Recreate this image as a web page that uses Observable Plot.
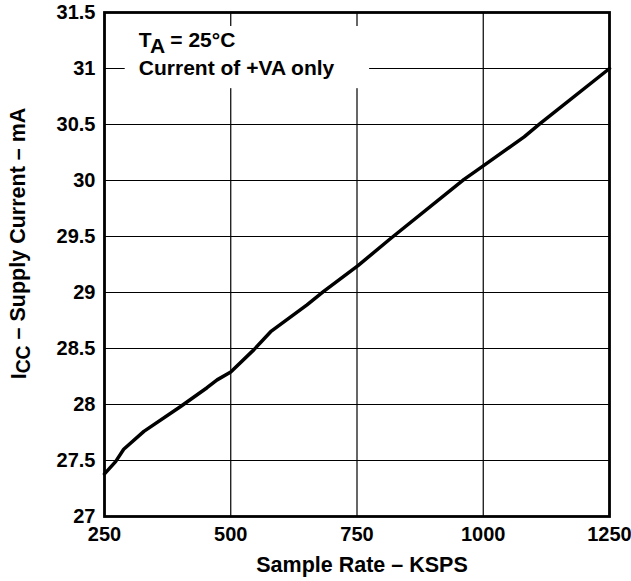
<!DOCTYPE html>
<html>
<head>
<meta charset="utf-8">
<script src="https://cdn.jsdelivr.net/npm/d3@7"></script>
<script src="https://cdn.jsdelivr.net/npm/@observablehq/plot@0.6"></script>
<style>
  html, body { margin: 0; padding: 0; background: #fff; }
  #chart svg { display: block; }
</style>
</head>
<body>
<div id="chart"></div>
<script>
// ---- data ----
const sampleRate = [250, 272, 288, 328, 400, 453, 473, 500, 546, 579, 651, 684, 752, 816, 962, 1000, 1081, 1113, 1250];
const supplyCurrent = [27.38, 27.49, 27.60, 27.76, 27.98, 28.15, 28.22, 28.29, 28.49, 28.65, 28.89, 29.01, 29.24, 29.48, 30.01, 30.13, 30.39, 30.51, 31.00];
const xTicks = [250, 500, 750, 1000, 1250];
const yTicks = [27, 27.5, 28, 28.5, 29, 29.5, 30, 30.5, 31, 31.5];
const xLabel = "Sample Rate – KSPS";
const yLabel = "ICC – Supply Current – mA";
const noteLines = ["TA = 25°C", "Current of +VA only"];

const data = sampleRate.map((x, i) => ({x, y: supplyCurrent[i]}));

// annotation placement (data units)
const noteBox = {x1: 291, x2: 775, y1: 30.82, y2: 31.375};
const notes = [
  {x: 318, y: 31.19, text: noteLines[0]},
  {x: 318, y: 30.945, text: noteLines[1]}
];

const tickFs = 20;
const noteFs = 21;
const labelFs = 21.5;
const chart = Plot.plot({
  width: 631,
  height: 581,
  marginLeft: 104,
  marginRight: 22,
  marginTop: 12,
  marginBottom: 65,
  style: {fontFamily: "'Liberation Sans', Arial, sans-serif", fontSize: tickFs + "px", fontWeight: "bold", background: "#fff", color: "#000"},
  x: {domain: [250, 1250]},
  y: {domain: [27, 31.5]},
  marks: [
    Plot.ruleX(xTicks, {stroke: "#000", strokeWidth: 1.2, strokeOpacity: 1}),
    Plot.ruleY(yTicks, {stroke: "#000", strokeWidth: 1.2, strokeOpacity: 1}),
    Plot.rect([noteBox], {x1: "x1", x2: "x2", y1: "y1", y2: "y2", fill: "#fff"}),
    Plot.text(notes, {x: "x", y: "y", text: "text", textAnchor: "start", lineAnchor: "bottom", fontSize: noteFs, fontWeight: "bold", fill: "#000"}),
    Plot.line(data, {x: "x", y: "y", stroke: "#000", strokeWidth: 3.5, strokeLinejoin: "round"}),
    Plot.frame({stroke: "#000", strokeWidth: 2.8}),
    Plot.axisX({ticks: xTicks, tickSize: 0, tickPadding: 10, tickFormat: d => String(d), fontSize: tickFs, fontWeight: "bold",
      label: null}),
    Plot.axisY({ticks: yTicks, tickSize: 0, tickPadding: 9, tickFormat: d => String(d), fontSize: tickFs, fontWeight: "bold",
      label: null}),
    Plot.axisX({ticks: [], tickSize: 0, label: xLabel, labelAnchor: "center", labelOffset: 55, labelArrow: "none", fontSize: labelFs, fontWeight: "bold"}),
    Plot.axisY({ticks: [], tickSize: 0, label: yLabel, labelAnchor: "center", labelOffset: 94, labelArrow: "none", fontSize: labelFs, fontWeight: "bold"})
  ]
});
document.getElementById("chart").appendChild(chart);

// subscripts and label nudges
const svg = d3.select(chart);
svg.selectAll("text").each(function() {
  const t = d3.select(this);
  const s = this.textContent;
  if (s === yLabel) {
    this.textContent = "";
    t.append("tspan").text("I");
    t.append("tspan").attr("dy", "0.2em").attr("font-size", "0.9em").text("CC");
    t.append("tspan").attr("dy", "-0.2em").text(" – Supply Current – mA");
    const old = this.getAttribute("transform") || "";
    this.setAttribute("transform", "translate(0,-21) " + old);
  } else if (s === xLabel) {
    const old = this.getAttribute("transform") || "";
    this.setAttribute("transform", "translate(5,0) " + old);
  } else if (s === noteLines[0]) {
    this.textContent = "";
    t.append("tspan").text("T");
    t.append("tspan").attr("dy", "0.28em").text("A");
    t.append("tspan").attr("dy", "-0.28em").text(" = 25°C");
  }
});
</script>
</body>
</html>
